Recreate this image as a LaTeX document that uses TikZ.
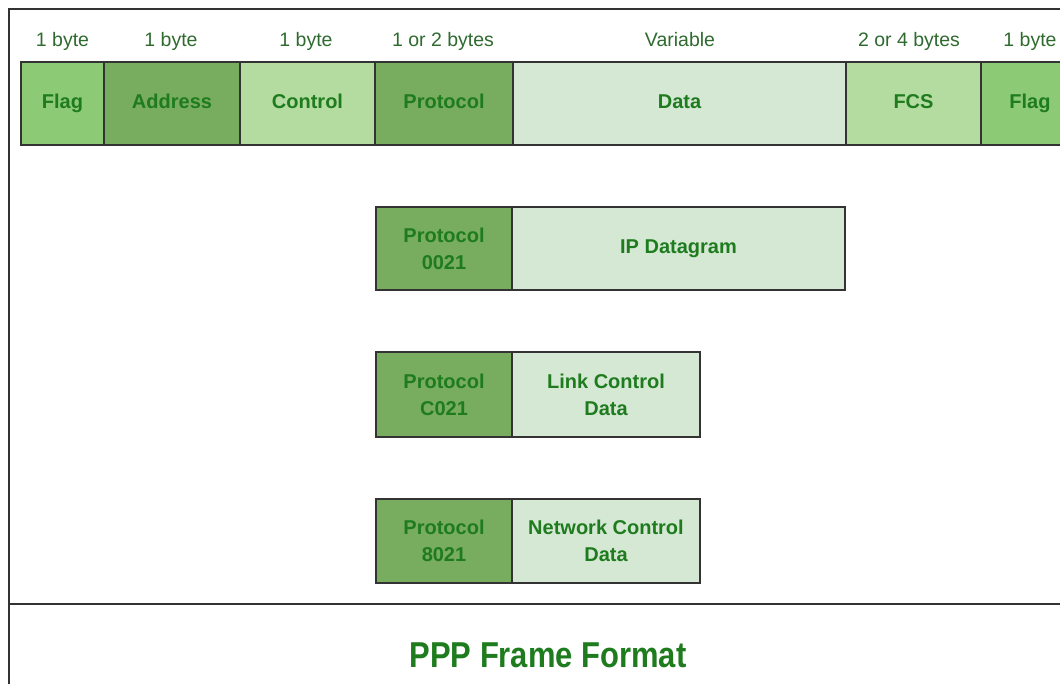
\documentclass[tikz,border=0pt]{standalone}
\usepackage{fontspec}
\usepackage{graphicx}
\setmainfont{Liberation Sans}
\setsansfont{Liberation Sans}
\definecolor{cflag}{HTML}{8DCA75}
\definecolor{cdark}{HTML}{78AC5F}
\definecolor{clight}{HTML}{B5DCA0}
\definecolor{cpale}{HTML}{D5E8D4}
\definecolor{ctext}{HTML}{1E7B1E}
\definecolor{clabel}{HTML}{2F6A2F}
\definecolor{cline}{HTML}{333333}
\begin{document}
\begin{tikzpicture}[x=1pt,y=-1pt,
  cell/.style={draw=cline, line width=2.4pt, rectangle, inner sep=0pt,
    minimum height=83pt, text=ctext, align=center,
    font=\fontsize{20}{27}\selectfont\bfseries},
  oneline/.style={text height=14.5pt, text depth=4pt},
  bytelabel/.style={inner sep=0pt, text=clabel, text height=14pt, text depth=4pt,
    font=\fontsize{19.5}{22}\selectfont},
  frameline/.style={draw=cline, line width=2.8pt}]
\useasboundingbox (0,0) rectangle (1060,684);
\clip (0,0) rectangle (1060,684);
% outer frame
\coordinate (tl) at (9,9);
\coordinate (tr) at (1062,9);
\coordinate (bl) at (9,686);
\coordinate (ml) at (9,604);
\coordinate (mr) at (1062,604);
\draw[frameline] (bl) -- (tl) -- (tr);
\draw[frameline] (ml) -- (mr);
% top frame row
\node[cell, oneline, fill=cflag,  minimum width=83pt]  (flag1) at (62.5,103.5) {Flag};
\node[cell, oneline, fill=cdark,  minimum width=136pt] (addr)  at (172,103.5)  {Address};
\node[cell, oneline, fill=clight, minimum width=135pt] (ctrl)  at (307.5,103.5) {Control};
\node[cell, oneline, fill=cdark,  minimum width=138pt] (proto) at (444,103.5)  {Protocol};
\node[cell, oneline, fill=cpale,  minimum width=333pt] (data)  at (679.5,103.5) {Data};
\node[cell, oneline, fill=clight, minimum width=135pt] (fcs)   at (913.5,103.5) {FCS};
\node[cell, oneline, fill=cflag,  minimum width=98pt]  (flag2) at (1030,103.5) {Flag};
% byte labels
\node[bytelabel] (l1) at (62.5,42) {1 byte};
\node[bytelabel] (l2) at (171,42) {1 byte};
\node[bytelabel] (l3) at (306,42) {1 byte};
\node[bytelabel] (l4) at (443,42) {1 or 2 bytes};
\node[bytelabel] (l5) at (680,42) {Variable};
\node[bytelabel] (l6) at (909,42) {2 or 4 bytes};
\node[bytelabel] (l7) at (1030,42) {1 byte};
% IP datagram
\node[cell, fill=cdark, minimum width=136pt] (p1) at (444,248.5) {Protocol\\0021};
\node[cell, oneline, fill=cpale, minimum width=333pt] (ip) at (678.5,248.5) {IP Datagram};
% LCP
\node[cell, fill=cdark, minimum width=136pt, minimum height=85pt] (p2) at (444,394.5) {Protocol\\C021};
\node[cell, fill=cpale, minimum width=188pt, minimum height=85pt] (lcd) at (606,394.5) {Link Control\\Data};
% NCP
\node[cell, fill=cdark, minimum width=136pt, minimum height=84pt] (p3) at (444,541) {Protocol\\8021};
\node[cell, fill=cpale, minimum width=188pt, minimum height=84pt] (ncd) at (606,541) {Network Control\\Data};
% title
\node[inner sep=0pt, text=ctext, font=\fontsize{36}{40}\selectfont\bfseries] (title) at (548,655) {\scalebox{0.86}[1]{PPP Frame Format}};
\end{tikzpicture}
\end{document}
